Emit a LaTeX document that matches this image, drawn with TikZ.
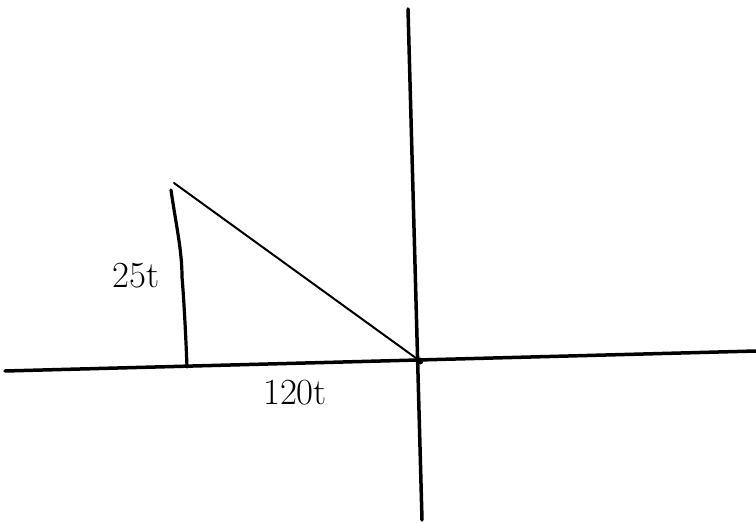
\documentclass[tikz,border=0pt]{standalone}
\begin{document}
\begin{tikzpicture}[x=1bp,y=-1bp,
  axis/.style={line width=3.5bp,line cap=round},
  leg/.style={line width=3.2bp,line cap=round},
  hyp/.style={line width=2bp,line cap=round},
  lbl/.style={font=\fontsize{37}{37}\selectfont,inner sep=0pt}]
\useasboundingbox (0,0) rectangle (756,523);
% axes
\coordinate (hl) at (5,371);
\coordinate (hr) at (756,351);
\coordinate (vt) at (408,9);
\coordinate (vb) at (422,520);
\coordinate (o) at (420,361);
\draw[axis] (hl) -- (hr);
\draw[axis] (vt) -- (vb);
% vertical leg
\coordinate (lt) at (171,190);
\coordinate (lm) at (182,277);
\coordinate (lb) at (187,367);
\draw[leg] (lt) .. controls (176,225) and (182,250) .. (lm) .. controls (184,300) and (186,340) .. (lb);
% hypotenuse
\coordinate (ht) at (174,183);
\draw[hyp] (ht) -- (o);
\fill (o) circle (3.5bp);
% labels
\node[lbl] (v) at (136,276) {25t};
\node[lbl] (h) at (295,393) {120t};
\end{tikzpicture}
\end{document}
